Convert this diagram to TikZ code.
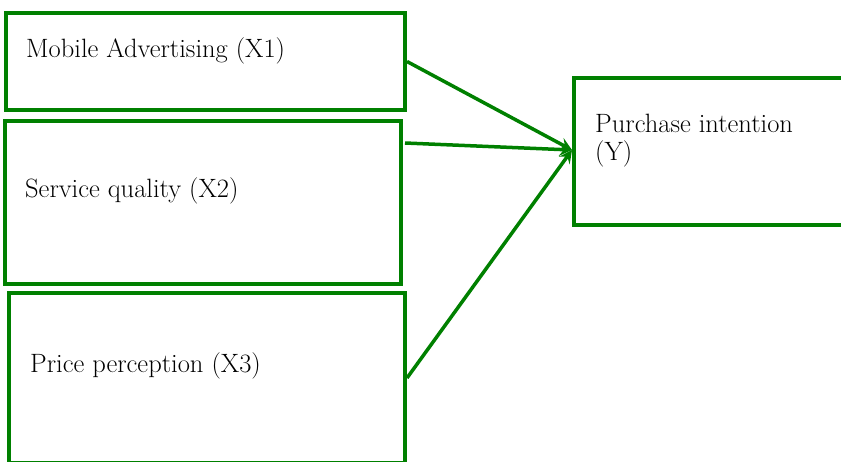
\documentclass[tikz,border=0pt]{standalone}
\usetikzlibrary{arrows.meta}
\definecolor{boxgreen}{RGB}{0,128,0}
\begin{document}
\begin{tikzpicture}[x=1pt,y=-1pt,
  box/.style={draw=boxgreen,line width=4pt,rectangle,inner sep=0pt},
  lbl/.style={anchor=base west,inner sep=0pt,font=\fontsize{26.5}{28}\selectfont,align=left},
  conn/.style={draw=boxgreen,line width=3.5pt,-{Stealth[length=13pt,width=13pt,inset=5pt]}}]
\clip (0,0) rectangle (841,461);
\node[box,minimum width=399pt,minimum height=97pt] (b1) at (205.5,61.5) {};
\node[box,minimum width=396pt,minimum height=163pt] (b2) at (203,202.5) {};
\node[box,minimum width=396pt,minimum height=170pt] (b3) at (207,378) {};
\node[box,minimum width=272pt,minimum height=147pt] (b4) at (710,151.5) {};
\node[lbl] (t1) at (26,57) {Mobile Advertising (X1)};
\node[lbl] (t2) at (25,197) {Service quality (X2)};
\node[lbl] (t3) at (30,372) {Price perception (X3)};
\node[lbl] (t4) at (595,160) {Purchase intention\\(Y)};
\coordinate (a2) at ([yshift=-24pt]b2.north east);
\coordinate (tip) at ([yshift=1.5pt]b4.west);
\draw[conn] (b1.east) -- (tip);
\draw[conn] ([xshift=2pt]a2) -- (tip);
\draw[conn] (b3.east) -- (tip);
\end{tikzpicture}
\end{document}
